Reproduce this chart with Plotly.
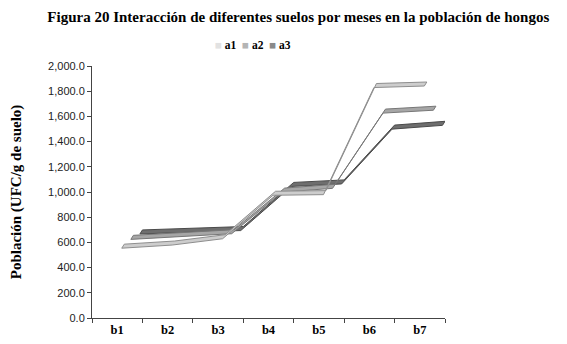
import plotly.graph_objects as go

categories = ["b1", "b2", "b3", "b4", "b5", "b6", "b7"]
series_names = ["a1", "a2", "a3"]
a1 = [570, 595, 645, 990, 995, 1845, 1857]
a2 = [640, 660, 685, 1015, 1045, 1642, 1665]
a3 = [683, 695, 710, 1060, 1080, 1515, 1545]
y_ticks = [0, 200, 400, 600, 800, 1000, 1200, 1400, 1600, 1800, 2000]

values = {"a1": a1, "a2": a2, "a3": a3}
# style: depth offset (category units), fill, edge colour, legend colour
styles = {
    "a1": dict(off=0.09, fill="#cdcdcd", edge="#8e8e8e", leg="#e2e2e2"),
    "a2": dict(off=0.27, fill="#a6a6a6", edge="#777777", leg="#b4b4b4"),
    "a3": dict(off=0.45, fill="#6e6e6e", edge="#4a4a4a", leg="#8a8a8a"),
}
ribbon_h = 32      # ribbon thickness in value units
ribbon_dx = 0.05   # ribbon depth shift in category units

fig = go.Figure()
idx = list(range(len(categories)))
for name in reversed(series_names):
    st = styles[name]
    v = values[name]
    xf = [i + st["off"] for i in idx]
    yf = [val - ribbon_h / 2 for val in v]
    xb = [x + ribbon_dx for x in xf]
    yb = [val + ribbon_h / 2 for val in v]
    fig.add_trace(go.Scatter(
        x=xf + xb[::-1] + [xf[0]],
        y=yf + yb[::-1] + [yf[0]],
        mode="lines", fill="toself", fillcolor=st["fill"],
        line=dict(color=st["edge"], width=1),
        name=name, showlegend=False, hoverinfo="skip"))

legend_html = "&nbsp;&nbsp;".join(
    f'<span style="color:{styles[n]["leg"]}">■</span> {n}' for n in series_names)

fig.update_layout(
    width=567, height=344,
    margin=dict(l=84, r=130, t=58, b=34),
    paper_bgcolor="white", plot_bgcolor="white",
    showlegend=False,
    title=dict(
        text="<b>Figura 20 Interacción de diferentes suelos por meses en la población de hongos</b>",
        x=0.512, xanchor="center", y=0.974, yanchor="middle",
        font=dict(family="Liberation Serif", size=15, color="black")),
    annotations=[dict(
        text=f"<b>{legend_html}</b>", xref="paper", yref="paper",
        x=0.343, y=1.083, xanchor="left", yanchor="middle", showarrow=False,
        font=dict(family="Liberation Serif", size=11.5, color="black"))],
    xaxis=dict(
        range=[-0.5, 6.5], tickmode="array", tickvals=idx, ticktext=categories,
        ticks="", showgrid=False, zeroline=False, automargin=False,
        showline=True, linecolor="#444", linewidth=1,
        tickfont=dict(family="Liberation Serif", size=12.5, color="black", weight="bold"),
        minor=dict(tickmode="linear", tick0=-0.5, dtick=1, ticks="outside",
                   ticklen=4, tickcolor="#444", showgrid=False),
    ),
    yaxis=dict(
        range=[0, 2000], tickmode="array", tickvals=y_ticks,
        tickformat=",.1f", ticks="outside", ticklen=4, tickcolor="#444",
        showgrid=False, zeroline=False, automargin=False,
        showline=True, linecolor="#444", linewidth=1,
        tickfont=dict(family="Liberation Sans", size=11, color="#222"),
        title=dict(text="<b>Población (UFC/g de suelo)</b>", standoff=31,
                   font=dict(family="Liberation Serif", size=15, color="black")),
    ),
)

fig.write_html("out.html")
